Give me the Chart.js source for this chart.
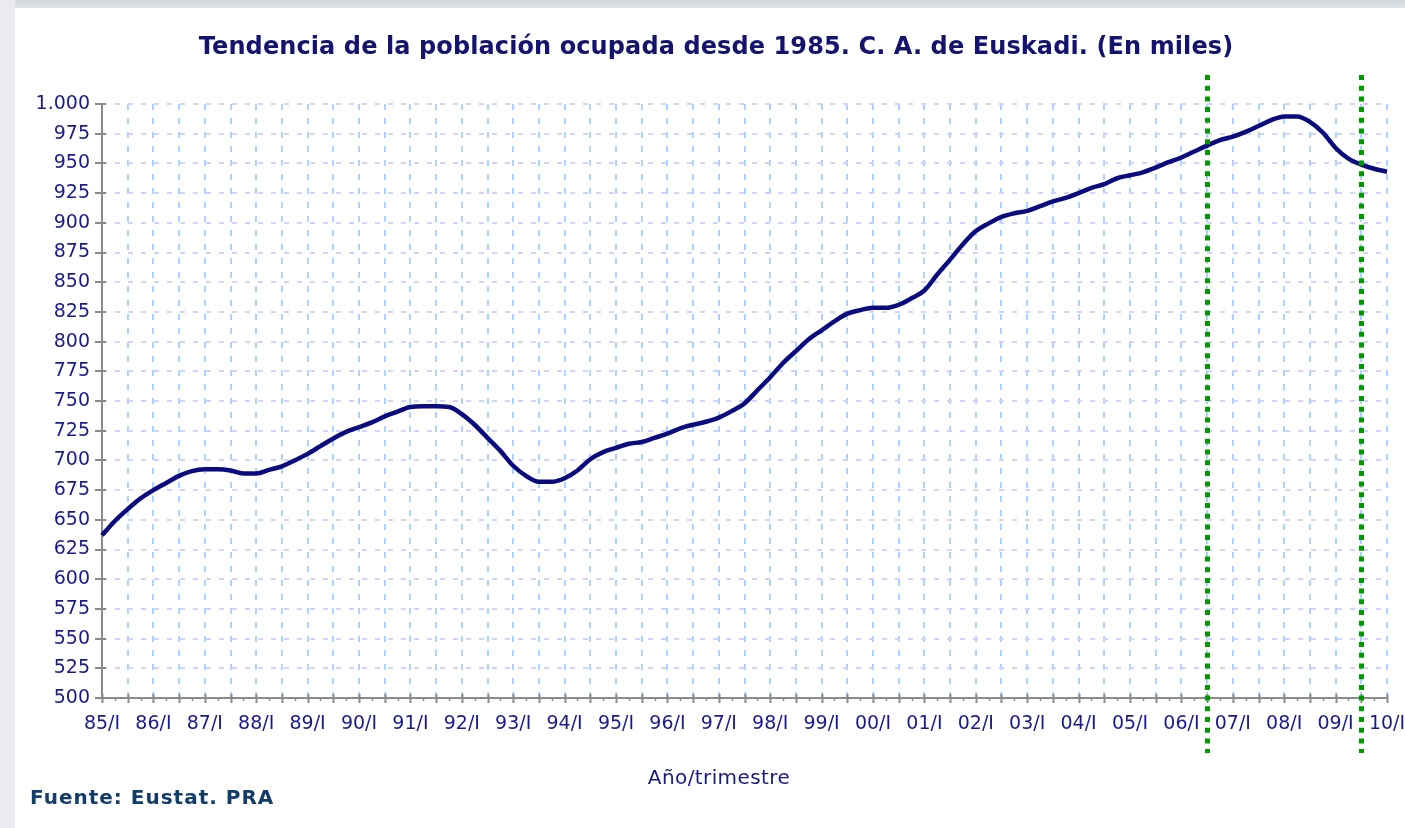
<!DOCTYPE html>
<html>
<head>
<meta charset="utf-8">
<script src="https://cdn.jsdelivr.net/npm/chart.js@4.4.1/dist/chart.umd.min.js"></script>
<style>
  body{margin:0;background:#fff;}
  #wrap{position:relative;width:1405px;height:828px;overflow:hidden;background:#fff;}
  #topbar{position:absolute;left:0;top:0;width:1405px;height:8px;background:linear-gradient(#d3d6db,#e2e4e8);}
  #leftbar{position:absolute;left:0;top:0;width:15px;height:828px;background:#e9ebef;}
  canvas{position:absolute;left:0;top:0;}
  .txt{position:absolute;white-space:nowrap;font-family:"DejaVu Sans",sans-serif;}
  #title{left:716px;top:32px;transform:translateX(-50%);font-size:24px;font-weight:bold;color:#14146e;letter-spacing:0.1px;}
  #xtitle{left:719px;top:765px;transform:translateX(-50%);font-size:20px;letter-spacing:0.4px;color:#1a1a80;}
  #source{left:30px;top:785px;font-size:20px;font-weight:bold;color:#123c6a;letter-spacing:1px;}
</style>
</head>
<body>
<div id="wrap">
  <div id="topbar"></div>
  <div id="leftbar"></div>
  <canvas id="chart" width="1405" height="828"></canvas>
  <div class="txt" id="title">Tendencia de la población ocupada desde 1985. C. A. de Euskadi. (En miles)</div>
  <div class="txt" id="xtitle">Año/trimestre</div>
  <div class="txt" id="source">Fuente: Eustat. PRA</div>
</div>
<script>
//DATA
const years=['85','86','87','88','89','90','91','92','93','94','95','96','97','98','99','00','01','02','03','04','05','06','07','08','09','10'];
const trimestres=['I','II','III','IV'];
const ocupados=[
  637,649,659,668, 675,681,687,691, 692.5,692.5,691.5,689, 689,692,695,700,
  705.5,712,718.5,724, 728,732,737,741, 745,745.5,745.5,745, 739,730,719,708,
  695.5,687,682,682, 685,691.5,701,707, 710.5,714,715.5,719, 722.5,727,730,732.5,
  736,741.5,748,759, 770,782,792,802, 809.5,817,823.5,826.5, 828.5,828.5,831,836.5,
  843,856.5,869,882, 893,899.5,905,908, 910,914,918,921, 925,929.5,932.5,937.5,
  940,942.5,946.5,951, 955,960,965,969.5, 972.5,976.5,981.5,986.5, 989.5,989.5,985,976,
  963,954,949,945.5, 943
];
//quarters with the green dotted markers (06/III and 09/III)
const marcas=[86,98];

//BUILD QUARTER LABELS (last year only has the first quarter)
let labels=[];
years.forEach((y,i)=>{
    trimestres.forEach(t=>{
        if(i<years.length-1 || t=='I') labels.push(y+'/'+t);
    });
});

const font="'DejaVu Sans',sans-serif";
const labelColor='#1a1a8c';

function formatMiles(v){
    return String(v).replace(/\B(?=(\d{3})+(?!\d))/g,'.');
}

//AXIS LINES AND TICK MARKS
const axesPlugin={
    id:'axes',
    beforeDatasetsDraw(chart){
        const {ctx,chartArea:a,scales:{x,y}}=chart;
        ctx.save();
        ctx.strokeStyle='#8a8a8a';
        ctx.lineWidth=2;
        ctx.beginPath();
        ctx.moveTo(a.left,a.top-1);
        ctx.lineTo(a.left,a.bottom);
        ctx.lineTo(a.right,a.bottom);
        y.ticks.forEach((t,i)=>{
            const py=Math.round(y.getPixelForTick(i));
            ctx.moveTo(a.left-7,py);
            ctx.lineTo(a.left+4,py);
        });
        ctx.stroke();
        x.ticks.forEach((t,i)=>{
            const px=Math.round(x.getPixelForTick(i))+0.5;
            ctx.beginPath();
            if(i%2==0){
                ctx.lineWidth=2;
                ctx.moveTo(px,a.bottom-4);
                ctx.lineTo(px,a.bottom+5);
            }else{
                ctx.lineWidth=1.5;
                ctx.moveTo(px,a.bottom-1);
                ctx.lineTo(px,a.bottom+3);
            }
            ctx.stroke();
        });
        ctx.restore();
    }
};

//GREEN DOTTED MARKERS
const markerPlugin={
    id:'markers',
    afterDatasetsDraw(chart){
        const {ctx,scales:{x}}=chart;
        ctx.save();
        ctx.strokeStyle='#009a00';
        ctx.lineWidth=5;
        ctx.setLineDash([5,5.7]);
        marcas.forEach(m=>{
            const px=Math.round(x.getPixelForValue(m))+0.5;
            ctx.beginPath();
            ctx.moveTo(px,75);
            ctx.lineTo(px,753);
            ctx.stroke();
        });
        ctx.restore();
    }
};

const ctx=document.getElementById('chart').getContext('2d');
const my_chart=new Chart(ctx,{
    type:'line',
    data:{
        labels:labels,
        datasets:[{
            label:'Población ocupada',
            data:ocupados,
            borderColor:'#0b0b80',
            borderWidth:4.5,
            pointRadius:0,
            fill:false,
            cubicInterpolationMode:'monotone'
        }]
    },
    options:{
        responsive:false,
        animation:false,
        layout:{padding:{left:0,top:104,right:18,bottom:90}},
        plugins:{legend:{display:false},tooltip:{enabled:false},title:{display:false}},
        scales:{
            x:{
                offset:false,
                afterFit(scale){
                    scale.height=40;
                    //let the last label run into the right margin like the original
                    scale.paddingRight=0;
                    scale.paddingLeft=0;
                },
                border:{display:false,dash:[6,8]},
                grid:{
                    drawTicks:false,
                    lineWidth:2,
                    color:(c)=>(c.index%2==0 && c.index>0)?'#aad4ff':'rgba(0,0,0,0)'
                },
                ticks:{
                    autoSkip:false,
                    maxRotation:0,
                    padding:15,
                    color:labelColor,
                    font:{family:font,size:19},
                    callback:function(v,i){return i%4==0?labels[i]:'';}
                }
            },
            y:{
                min:500,
                max:1000,
                afterFit(scale){
                    scale.width=102;
                    scale.paddingTop=0;
                    scale.paddingBottom=0;
                },
                border:{display:false,dash:[5,8]},
                grid:{drawTicks:false,lineWidth:2,color:'#d2d2ff'},
                ticks:{
                    stepSize:25,
                    padding:12,
                    color:labelColor,
                    font:{family:font,size:19},
                    callback:(v)=>formatMiles(v)
                }
            }
        }
    },
    plugins:[axesPlugin,markerPlugin]
});
</script>
</body>
</html>
